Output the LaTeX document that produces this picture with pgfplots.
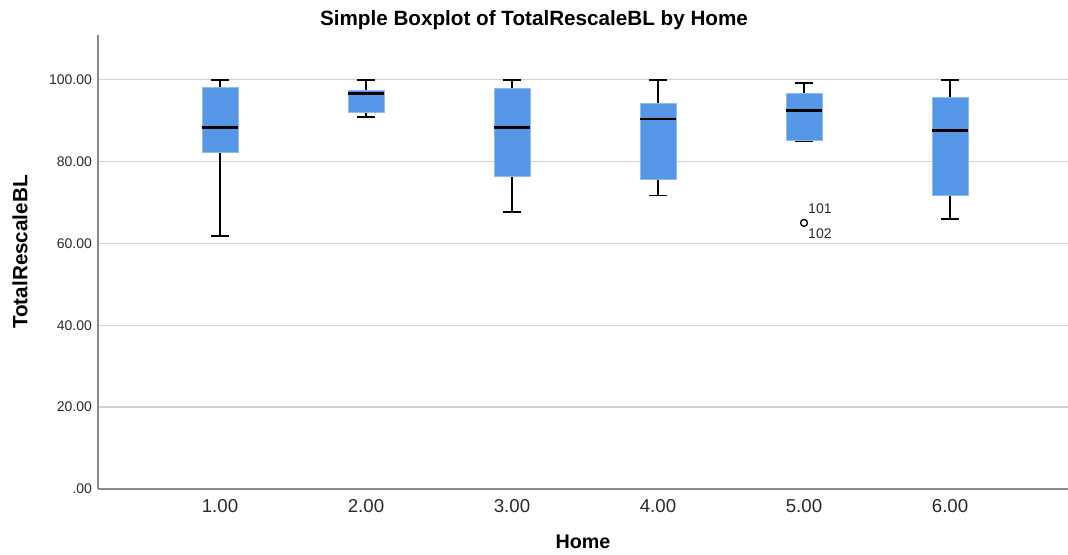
\documentclass[border=0pt]{standalone}
\usepackage{pgfplots}
\pgfplotsset{compat=1.18}
\usepgfplotslibrary{statistics}
\usepackage{fontspec}
\setmainfont{Liberation Sans}
\definecolor{boxblue}{HTML}{5596E6}
\definecolor{boxedge}{HTML}{8DBBF2}
\definecolor{gridgray}{HTML}{D2D2D2}
\definecolor{axisgray}{HTML}{8A8A8A}
\definecolor{ticktext}{HTML}{2A2A2A}
\begin{document}
\begin{tikzpicture}
\path[use as bounding box] (-73.5pt,-48.75pt) rectangle (727.5pt,366.75pt);
\begin{axis}[
  scale only axis,
  width=727.5pt, height=340.5pt,
  xmin=0.1644, xmax=6.808,
  ymin=0, ymax=110.9,
  axis x line=bottom, axis y line=left,
  axis line style={axisgray, line width=1.5pt, -},
  xtick={1,2,3,4,5,6},
  xticklabels={1.00,2.00,3.00,4.00,5.00,6.00},
  ytick={0,20,40,60,80,100},
  yticklabels={.00,20.00,40.00,60.00,80.00,100.00},
  major tick length=0pt,
  x tick label style={font=\fontsize{14}{16}\selectfont, text=ticktext, yshift=-4pt},
  y tick label style={font=\fontsize{10.5}{12}\selectfont, text=ticktext, xshift=-1pt},
  /pgf/number format/assume math mode=true,
  ymajorgrids,
  grid style={gridgray, line width=1pt},
  boxplot/draw direction=y,
  boxplot/box extend=0.247,
  boxplot/whisker extend=0.125,
  boxplot/every median/.style={black, line width=2.1pt},
  boxplot/every whisker/.style={black, line width=1.4pt},
  boxplot/every box/.style={draw=boxedge, fill=boxblue, line width=0.6pt},
  clip=false,
]
\addplot[boxplot prepared={draw position=1, lower whisker=61.7, lower quartile=82.1, median=88.3, upper quartile=98.2, upper whisker=100}] coordinates {};
\addplot[boxplot prepared={draw position=2, lower whisker=90.8, lower quartile=92.1, median=96.7, upper quartile=97.4, upper whisker=100}] coordinates {};
\addplot[boxplot prepared={draw position=3, lower whisker=67.6, lower quartile=76.3, median=88.3, upper quartile=97.8, upper whisker=100}] coordinates {};
\addplot[boxplot prepared={draw position=4, lower whisker=71.7, lower quartile=75.7, median=90.4, upper quartile=94.2, upper whisker=100}] coordinates {};
\addplot[boxplot prepared={draw position=5, lower whisker=85.1, lower quartile=85.1, median=92.5, upper quartile=96.6, upper whisker=99.1},
  mark=o, mark size=2.6pt, mark options={black, line width=1pt}] coordinates {(0,65.0)};
\addplot[boxplot prepared={draw position=6, lower whisker=65.9, lower quartile=71.7, median=87.5, upper quartile=95.6, upper whisker=100}] coordinates {};
\node[anchor=west, font=\fontsize{10.5}{12}\selectfont, text=ticktext, inner sep=0pt] at (axis cs:5.027,68.4) {101};
\node[anchor=west, font=\fontsize{10.5}{12}\selectfont, text=ticktext, inner sep=0pt] at (axis cs:5.027,62.3) {102};
\end{axis}
\node[font=\bfseries\fontsize{15.5}{17}\selectfont] at (327pt,351.75pt) {Simple Boxplot of TotalRescaleBL by Home};
\node[font=\bfseries\fontsize{14.8}{16}\selectfont] at (363.75pt,-39.5pt) {Home};
\node[font=\bfseries\fontsize{15.5}{17}\selectfont, rotate=90] at (-58.5pt,177.75pt) {TotalRescaleBL};
\end{tikzpicture}
\end{document}
